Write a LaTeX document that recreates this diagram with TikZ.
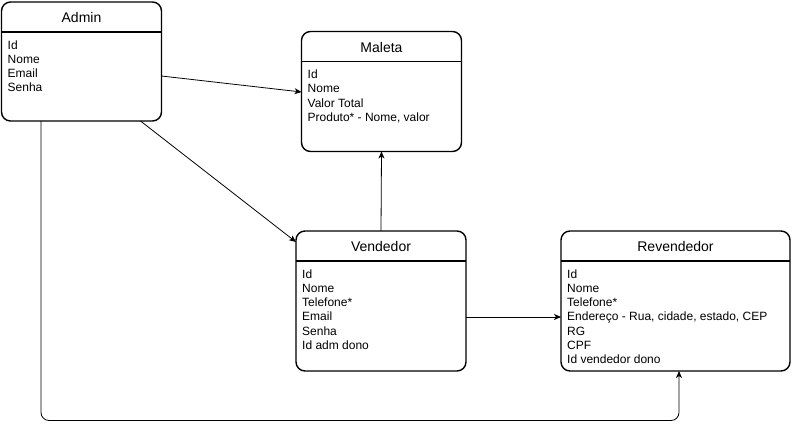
\documentclass[tikz,border=0pt]{standalone}
\usepackage{fontspec}
\setmainfont{Liberation Sans}
\usetikzlibrary{arrows.meta,calc}

\begin{document}
\begin{tikzpicture}[x=1pt,y=-1pt,
  entity/.style={draw, line width=1.4pt, rounded corners=9pt, anchor=north west,
    inner sep=0pt, outer sep=0pt},
  headline/.style={line width=1.4pt},
  etitle/.style={font=\fontsize{14}{16}\selectfont, inner sep=0pt},
  fields/.style={anchor=north west, inner sep=0pt, align=left,
    font=\fontsize{12}{14.25}\selectfont},
  link/.style={line width=0.8pt, -{Stealth[length=7pt,width=6pt,inset=2pt]}}]

\useasboundingbox (0,0) rectangle (792,430);

% Admin
\node[entity, minimum width=160pt, minimum height=119pt] (admin) at (1.5,2) {};
\draw[headline] ($(admin.north west)+(0,30)$) -- ($(admin.north east)+(0,30)$);
\node[etitle] (admintitle) at ($(admin.north)+(0,15.5)$) {Admin};
\node[fields] (adminfields) at ($(admin.north west)+(6,37)$)
  {\strut Id\\Nome\\Email\\Senha};

% Maleta
\node[entity, minimum width=160pt, minimum height=120pt] (maleta) at (301.5,31.5) {};
\draw[headline] ($(maleta.north west)+(0,30)$) -- ($(maleta.north east)+(0,30)$);
\node[etitle] (maletatitle) at ($(maleta.north)+(0,15.5)$) {Maleta};
\node[fields] (maletafields) at ($(maleta.north west)+(6,37)$)
  {\strut Id\\Nome\\Valor Total\\Produto* - Nome, valor};

% Vendedor
\node[entity, minimum width=170pt, minimum height=140pt] (vendedor) at (296,231) {};
\draw[headline] ($(vendedor.north west)+(0,30)$) -- ($(vendedor.north east)+(0,30)$);
\node[etitle] (vendedortitle) at ($(vendedor.north)+(0,15.5)$) {Vendedor};
\node[fields] (vendedorfields) at ($(vendedor.north west)+(6,37)$)
  {\strut Id\\Nome\\Telefone*\\Email\\Senha\\Id adm dono};

% Revendedor
\node[entity, minimum width=229pt, minimum height=140pt] (revendedor) at (561,231) {};
\draw[headline] ($(revendedor.north west)+(0,30)$) -- ($(revendedor.north east)+(0,30)$);
\node[etitle] (revendedortitle) at ($(revendedor.north)+(0,15.5)$) {Revendedor};
\node[fields] (revendedorfields) at ($(revendedor.north west)+(6,37)$)
  {\strut Id\\Nome\\Telefone*\\Endereço - Rua, cidade, estado, CEP\\RG\\CPF\\Id vendedor dono};

% Relationships
\draw[link] ($(admin.north east)+(0,74)$) -- ($(maleta.north west)+(0,60.5)$);
\draw[link] ($(admin.south west)+(139,0)$) -- ($(vendedor.north west)+(0,11)$);
\draw[link] (vendedor.north) -- (maleta.south);
\draw[link] ($(vendedor.north east)+(0,86)$) -- ($(revendedor.north west)+(0,86)$);
\coordinate (admindrop) at ($(admin.south west)+(39.5,0)$);
\coordinate (revendin) at ($(revendedor.south west)+(118,0)$);
\draw[link, rounded corners=8pt] (admindrop) -- (admindrop |- 0,420.5)
  -- (revendin |- 0,420.5) -- (revendin);
\end{tikzpicture}
\end{document}
